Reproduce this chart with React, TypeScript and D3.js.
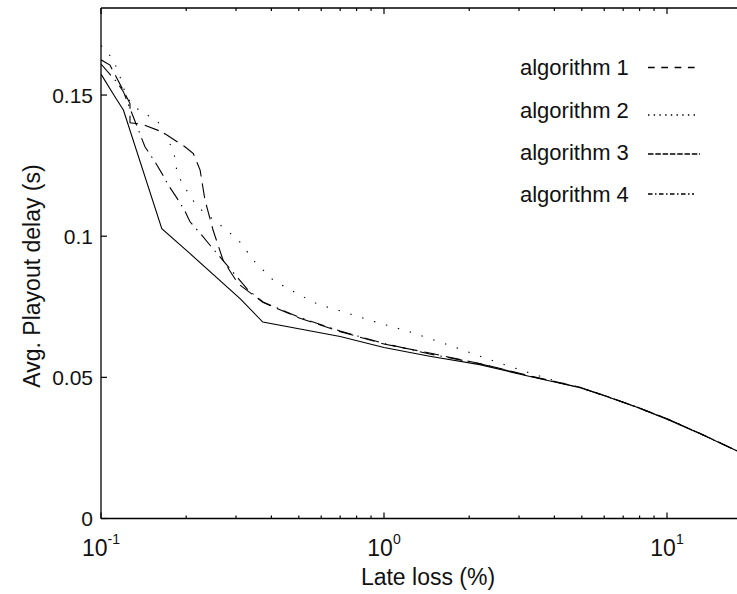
import React from "react";
import * as d3 from "d3";

// ---- data (x: late loss %, y: avg playout delay s) ----
const alg1X = [0.1, 0.1076, 0.1196, 0.1266, 0.1266, 0.139, 0.164, 0.198, 0.212, 0.224, 0.233, 0.249, 0.27, 0.305, 0.373, 0.505, 0.7, 1.0, 1.45, 2.18, 3.28, 4.93, 6.12, 7.59, 10, 13.1, 18];
const alg1Y = [0.1625, 0.1606, 0.1518, 0.147, 0.1402, 0.1397, 0.137, 0.1317, 0.1293, 0.1234, 0.1128, 0.1021, 0.0915, 0.0832, 0.0766, 0.0709, 0.0662, 0.0618, 0.0586, 0.0549, 0.0505, 0.0465, 0.0433, 0.04, 0.0353, 0.0301, 0.0236];

const alg2X = [0.1, 0.1027, 0.11, 0.115, 0.123, 0.131, 0.143, 0.159, 0.175, 0.183, 0.185, 0.193, 0.206, 0.218, 0.26, 0.306, 0.35, 0.406, 0.492, 0.595, 0.644, 0.892, 1.236, 1.71, 2.31, 3.19, 4.2, 4.93, 6.12, 7.59, 10, 13.1, 18];
const alg2Y = [0.1675, 0.1666, 0.1627, 0.1585, 0.1494, 0.1458, 0.1435, 0.1405, 0.1329, 0.1276, 0.1234, 0.1189, 0.1145, 0.1106, 0.1045, 0.0986, 0.0909, 0.0844, 0.0797, 0.0755, 0.0747, 0.0702, 0.0661, 0.0613, 0.0566, 0.0519, 0.0482, 0.0464, 0.0432, 0.0399, 0.0352, 0.03, 0.0236];

const alg3X = [0.1, 0.112, 0.12, 0.164, 0.206, 0.31, 0.373, 0.7, 1.0, 1.45, 2.18, 3.28, 4.93, 6.12, 7.59, 10, 13.1, 18];
const alg3Y = [0.1574, 0.1494, 0.1447, 0.1027, 0.0939, 0.0779, 0.0696, 0.0645, 0.0606, 0.0575, 0.0545, 0.0503, 0.0463, 0.0432, 0.0399, 0.0352, 0.03, 0.0236];

const alg4X = [0.1, 0.1135, 0.12, 0.143, 0.155, 0.1647, 0.1729, 0.1875, 0.198, 0.2063, 0.227, 0.2428, 0.331, 0.374, 0.5, 0.7, 1.0, 1.45, 2.18, 3.28, 4.93, 6.12, 7.59, 10, 13.1, 18];
const alg4Y = [0.161, 0.1547, 0.1512, 0.1317, 0.1264, 0.122, 0.1181, 0.1128, 0.1089, 0.1051, 0.1004, 0.0968, 0.0809, 0.0767, 0.0713, 0.0664, 0.062, 0.0583, 0.0548, 0.0504, 0.0464, 0.0433, 0.04, 0.0353, 0.0301, 0.0236];

const seriesNames = ["algorithm 1", "algorithm 2", "algorithm 3", "algorithm 4"];
const yTicks = [0, 0.05, 0.1, 0.15];
const yTickLabels = ["0", "0.05", "0.1", "0.15"];
const xMajor = [0.1, 1, 10];
const xMajorExp = ["-1", "0", "1"];

const W = 737;
const H = 594;
const FONT = "'Liberation Sans', Arial, Helvetica, sans-serif";

export default function App() {
  const left = 101;
  const bottom = 518.5;
  const top = 8;
  const decade = 283;
  const xMax = 20;
  const right = left + decade * Math.log10(xMax / 0.1);
  const x = d3.scaleLog().domain([0.1, xMax]).range([left, right]);
  const yMax = (bottom - top) / 2823;
  const y = d3.scaleLinear().domain([0, yMax]).range([bottom, top]);

  const line = d3
    .line<[number, number]>()
    .x((d) => x(d[0]))
    .y((d) => y(d[1]));

  const mk = (xs: number[], ys: number[]) => xs.map((v, i) => [v, ys[i]] as [number, number]);
  const series = [
    { data: mk(alg1X, alg1Y), dash: "15,7" },
    { data: mk(alg2X, alg2Y), dash: "1.4,11" },
    { data: mk(alg3X, alg3Y), dash: "" },
    { data: mk(alg4X, alg4Y), dash: "15,6,1.5,6" },
  ];

  const minor: number[] = [];
  [0.1, 1, 10].forEach((b) => {
    for (let k = 2; k <= 9; k++) minor.push(b * k);
  });

  const legendDash = ["6.7,6.6", "1.4,4.3", "5.5,1.8", "4.5,2.5,1.5,2.5"];
  const legendSample = [
    { x1: 648, x2: 695, y: 67.5 },
    { x1: 648, x2: 695, y: 115 },
    { x1: 648, x2: 700, y: 154 },
    { x1: 648, x2: 694, y: 194 },
  ];
  const legendBase = [75, 117.5, 160, 202];

  return (
    <svg
      width={W}
      height={H}
      style={{ position: "absolute", left: 0, top: 0, background: "#fff" }}
      fontFamily={FONT}
    >
      <rect x={0} y={0} width={W} height={H} fill="#fff" />
      <defs>
        <clipPath id="plotclip">
          <rect x={left} y={top} width={right - left} height={bottom - top} />
        </clipPath>
      </defs>

      {/* data lines */}
      <g clipPath="url(#plotclip)">
        {series.map((s, i) => (
          <path
            key={i}
            d={line(s.data) || ""}
            fill="none"
            stroke="#000"
            strokeWidth={1.1}
            strokeDasharray={s.dash || undefined}
          />
        ))}
      </g>

      {/* axes box */}
      <line x1={left} x2={left} y1={top} y2={bottom} stroke="#000" strokeWidth={1.3} />
      <line x1={left} x2={right} y1={bottom} y2={bottom} stroke="#000" strokeWidth={1.3} />
      <line x1={left} x2={right} y1={top} y2={top} stroke="#000" strokeWidth={1.3} />
      <line x1={right} x2={right} y1={top} y2={bottom} stroke="#000" strokeWidth={1.3} />

      {/* y ticks */}
      {yTicks.map((t, i) => (
        <g key={"yt" + i}>
          <line x1={left} x2={left + 6} y1={y(t)} y2={y(t)} stroke="#000" strokeWidth={1.2} />
          <line x1={right} x2={right - 6} y1={y(t)} y2={y(t)} stroke="#000" strokeWidth={1.2} />
          <text x={93} y={y(t)} dy="0.36em" textAnchor="end" fontSize={21} fill="#111">
            {yTickLabels[i]}
          </text>
        </g>
      ))}

      {/* x ticks */}
      {xMajor.map((t, i) => (
        <g key={"xm" + i}>
          <line x1={x(t)} x2={x(t)} y1={bottom} y2={bottom - 6} stroke="#000" strokeWidth={1.2} />
          <line x1={x(t)} x2={x(t)} y1={top} y2={top + 6} stroke="#000" strokeWidth={1.2} />
          <text x={x(t)} y={556} textAnchor="middle" fill="#111">
            <tspan fontSize={23}>10</tspan>
            <tspan fontSize={14} dy={-12}>{xMajorExp[i]}</tspan>
          </text>
        </g>
      ))}
      {minor.map((t, i) => (
        <g key={"xn" + i}>
          <line x1={x(t)} x2={x(t)} y1={bottom} y2={bottom - 3} stroke="#000" strokeWidth={1.2} />
          <line x1={x(t)} x2={x(t)} y1={top} y2={top + 3} stroke="#000" strokeWidth={1.2} />
        </g>
      ))}

      {/* axis labels */}
      <text x={428} y={585} textAnchor="middle" fontSize={23} fill="#111">
        Late loss (%)
      </text>
      <text
        transform={`translate(40,${276}) rotate(-90)`}
        textAnchor="middle"
        fontSize={23}
        fill="#111"
      >
        Avg. Playout delay (s)
      </text>

      {/* legend */}
      {seriesNames.map((n, i) => (
        <g key={"lg" + i}>
          <text x={520} y={legendBase[i]} fontSize={22} fill="#111">
            {n}
          </text>
          <line
            x1={legendSample[i].x1}
            x2={legendSample[i].x2}
            y1={legendSample[i].y}
            y2={legendSample[i].y}
            stroke="#000"
            strokeWidth={1.4}
            strokeDasharray={legendDash[i]}
          />
        </g>
      ))}
    </svg>
  );
}
